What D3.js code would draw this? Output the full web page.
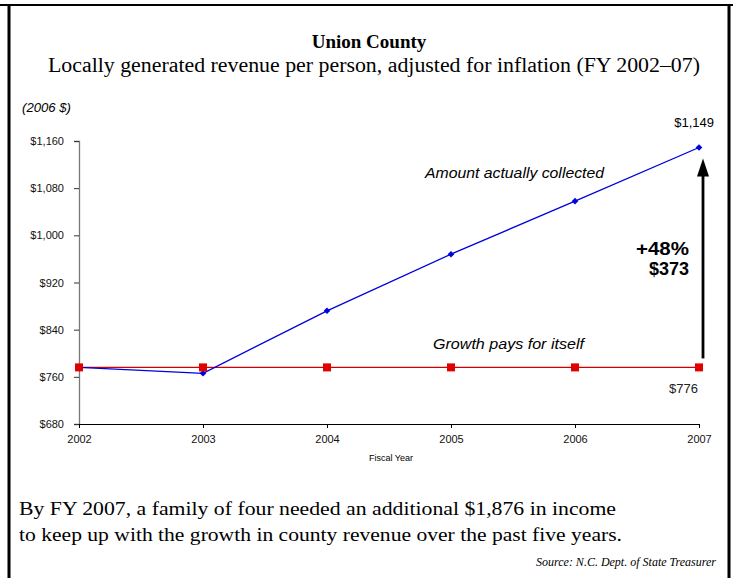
<!DOCTYPE html>
<html><head><meta charset="utf-8">
<script src="https://cdn.jsdelivr.net/npm/d3@7"></script>
<style>body{margin:0;background:#fff}svg{display:block}</style>
</head><body>
<script>
const years = [2002, 2003, 2004, 2005, 2006, 2007];
const collected = [776, 766, 872, 968, 1058, 1149];
const growthPays = [776, 776, 776, 776, 776, 776];
const yTicks = [680, 760, 840, 920, 1000, 1080, 1160];

const W = 733, H = 578;
const svg = d3.select("body").append("svg").attr("width", W).attr("height", H);
svg.append("rect").attr("width", W).attr("height", H).attr("fill", "#fff");

// frame
svg.append("line").attr("x1", 0).attr("x2", W).attr("y1", 5).attr("y2", 5).attr("stroke", "#000").attr("stroke-width", 2);
svg.append("line").attr("x1", 9).attr("x2", 9).attr("y1", 5).attr("y2", H).attr("stroke", "#000").attr("stroke-width", 3);
svg.append("line").attr("x1", 729).attr("x2", 729).attr("y1", 5).attr("y2", H).attr("stroke", "#000").attr("stroke-width", 3);

const serif = "'Liberation Serif', 'DejaVu Serif', serif";
const sans = "'Liberation Sans', Arial, sans-serif";

svg.append("text").attr("x", 369).attr("y", 48).attr("text-anchor", "middle")
  .attr("font-family", serif).attr("font-weight", "bold").attr("font-size", 19).text("Union County");
svg.append("text").attr("x", 374).attr("y", 72).attr("text-anchor", "middle")
  .attr("font-family", serif).attr("font-size", 20)
  .attr("textLength", 652).attr("lengthAdjust", "spacingAndGlyphs")
  .text("Locally generated revenue per person, adjusted for inflation (FY 2002–07)");

const x = d3.scalePoint().domain(years).range([79, 699]);
const y = d3.scaleLinear().domain([680, 1160]).range([424, 141]);

// y axis
const ya = svg.append("g").attr("transform", "translate(79,0)")
  .call(d3.axisLeft(y).tickValues(yTicks).tickSize(5).tickPadding(10)
    .tickFormat(d => "$" + d3.format(",")(d)));
ya.select(".domain").attr("stroke", "#777").attr("stroke-width", 1.3);
ya.selectAll(".tick line").attr("stroke", "#333");
ya.selectAll("text").attr("font-family", sans).attr("font-size", 11).attr("fill", "#111");

// x axis
const xa = svg.append("g").attr("transform", "translate(0,424)")
  .call(d3.axisBottom(x).tickSize(4).tickSizeOuter(0).tickPadding(7).tickFormat(d3.format("d")));
xa.select(".domain").attr("stroke", "#000").attr("stroke-width", 1.2);
xa.selectAll("text").attr("font-family", sans).attr("font-size", 11).attr("fill", "#111");

svg.append("text").attr("x", 391).attr("y", 461).attr("text-anchor", "middle")
  .attr("font-family", sans).attr("font-size", 9).text("Fiscal Year");

svg.append("text").attr("x", 22).attr("y", 112)
  .attr("font-family", sans).attr("font-style", "italic").attr("font-size", 12)
  .attr("textLength", 49).attr("lengthAdjust", "spacingAndGlyphs").text("(2006 $)");

// lines
const line = d3.line().x((d, i) => x(years[i])).y(d => y(d));
svg.append("path").datum(growthPays).attr("d", line).attr("fill", "none").attr("stroke", "#d40000").attr("stroke-width", 1.3);
svg.append("path").datum(collected).attr("d", line).attr("fill", "none").attr("stroke", "#0000e0").attr("stroke-width", 1.3);

// blue diamonds
svg.selectAll(".dia").data(collected).enter().append("path")
  .attr("d", d3.symbol(d3.symbolSquare, 22))
  .attr("transform", (d, i) => `translate(${x(years[i])},${y(d)}) rotate(45)`)
  .attr("fill", "#0000e0");
// red squares
svg.selectAll(".sq").data(growthPays).enter().append("rect")
  .attr("x", (d, i) => x(years[i]) - 4).attr("y", d => y(d) - 4)
  .attr("width", 8).attr("height", 8).attr("fill", "#e00000");

// labels
svg.append("text").attr("x", 425).attr("y", 178)
  .attr("font-family", sans).attr("font-style", "italic").attr("font-size", 14.5)
  .attr("textLength", 179).attr("lengthAdjust", "spacingAndGlyphs").text("Amount actually collected");
svg.append("text").attr("x", 433).attr("y", 349)
  .attr("font-family", sans).attr("font-style", "italic").attr("font-size", 14)
  .attr("textLength", 151).attr("lengthAdjust", "spacingAndGlyphs").text("Growth pays for itself");

svg.append("text").attr("x", 714).attr("y", 127).attr("text-anchor", "end")
  .attr("font-family", sans).attr("font-size", 13).text("$" + d3.format(",")(collected[5]));
svg.append("text").attr("x", 698).attr("y", 393).attr("text-anchor", "end")
  .attr("font-family", sans).attr("font-size", 13).attr("fill", "#222").text("$" + growthPays[5]);

const diff = collected[5] - growthPays[5];
const pct = Math.round(diff / growthPays[5] * 100);
svg.append("text").attr("x", 636).attr("y", 255)
  .attr("font-family", sans).attr("font-weight", "bold").attr("font-size", 18.5)
  .attr("textLength", 53).attr("lengthAdjust", "spacingAndGlyphs").text("+" + pct + "%");
svg.append("text").attr("x", 649).attr("y", 275)
  .attr("font-family", sans).attr("font-weight", "bold").attr("font-size", 18)
  .attr("textLength", 40).attr("lengthAdjust", "spacingAndGlyphs").text("$" + diff);

// arrow
const ax = x(2007) + 4;
svg.append("line").attr("x1", ax).attr("x2", ax).attr("y1", y(growthPays[5]) - 9).attr("y2", y(collected[5]) + 26)
  .attr("stroke", "#000").attr("stroke-width", 2.8);
svg.append("path").attr("d", `M${ax - 6},${y(collected[5]) + 29} L${ax},${y(collected[5]) + 11} L${ax + 6},${y(collected[5]) + 29} Z`)
  .attr("fill", "#000");

// bottom text
svg.append("text").attr("x", 19).attr("y", 515).attr("font-family", serif).attr("font-size", 19)
  .attr("textLength", 597).attr("lengthAdjust", "spacingAndGlyphs")
  .text("By FY 2007, a family of four needed an additional $1,876 in income");
svg.append("text").attr("x", 19).attr("y", 541).attr("font-family", serif).attr("font-size", 19)
  .attr("textLength", 603).attr("lengthAdjust", "spacingAndGlyphs")
  .text("to keep up with the growth in county revenue over the past five years.");
svg.append("text").attr("x", 716).attr("y", 566).attr("text-anchor", "end")
  .attr("font-family", serif).attr("font-style", "italic").attr("font-size", 12)
  .text("Source: N.C. Dept. of State Treasurer");
</script>
</body></html>
